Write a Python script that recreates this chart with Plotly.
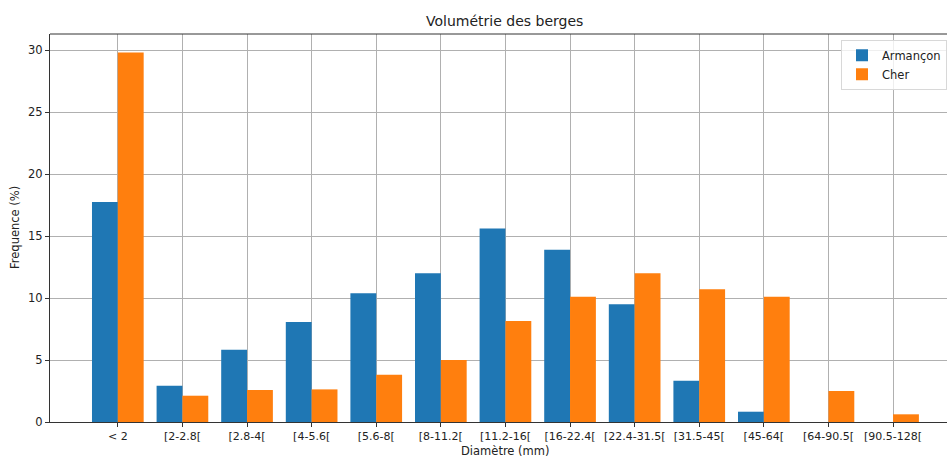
import plotly.graph_objects as go

classes = ["< 2", "[2-2.8[", "[2.8-4[", "[4-5.6[", "[5.6-8[", "[8-11.2[", "[11.2-16[",
           "[16-22.4[", "[22.4-31.5[", "[31.5-45[", "[45-64[", "[64-90.5[", "[90.5-128["]
armancon = [17.75, 2.93, 5.83, 8.06, 10.38, 12.0, 15.6, 13.9, 9.5, 3.33, 0.83, 0, 0]
cher = [29.8, 2.12, 2.58, 2.63, 3.82, 5.0, 8.15, 10.1, 12.0, 10.7, 10.1, 2.5, 0.62]

font = "DejaVu Sans"

fig = go.Figure()
fig.add_trace(go.Bar(x=classes, y=armancon, name="Armançon", marker_color="#1f77b4",
                     marker_line_width=0))
fig.add_trace(go.Bar(x=classes, y=cher, name="Cher", marker_color="#ff7f0e",
                     marker_line_width=0))

fig.update_layout(
    width=947, height=457, autosize=False,
    margin=dict(l=50, r=0, t=34, b=35),
    plot_bgcolor="white", paper_bgcolor="white",
    barmode="group", bargap=0.2, bargroupgap=0,
    font=dict(family=font, size=11, color="#222"),
    showlegend=True,
    legend=dict(x=1.0, y=0.985, xanchor="right", yanchor="top",
                bgcolor="rgba(255,255,255,0.8)", bordercolor="#d8d8d8", borderwidth=1,
                font=dict(size=11.5), itemsizing="constant", tracegroupgap=0),
    annotations=[
        dict(text="Volumétrie des berges", x=0.507, y=1, xref="paper", yref="paper",
             xanchor="center", yanchor="bottom", yshift=3, showarrow=False,
             font=dict(size=14, color="#222")),
        dict(text="Diamètre (mm)", x=0.507, y=0, xref="paper", yref="paper",
             xanchor="center", yanchor="top", yshift=-20, showarrow=False,
             font=dict(size=11.5, color="#222")),
        dict(text="Frequence (%)", x=0, y=0.5, xref="paper", yref="paper",
             xanchor="center", yanchor="middle", xshift=-35, textangle=-90,
             showarrow=False, font=dict(size=11.5, color="#222")),
    ],
)

fig.update_xaxes(range=[-1.05, 12.835], showgrid=True, gridcolor="#b0b0b0", gridwidth=1,
                 showline=True, linecolor="#333", linewidth=1, mirror=False,
                 ticks="outside", ticklen=4, tickcolor="#333", layer="above traces",
                 tickfont=dict(size=11, color="#222"))
fig.update_yaxes(range=[0, 31.29], dtick=5, showgrid=True, gridcolor="#b0b0b0", gridwidth=1,
                 showline=True, linecolor="#333", linewidth=1, zeroline=False,
                 ticks="outside", ticklen=4, tickcolor="#333", layer="above traces",
                 tickfont=dict(size=11.5, color="#222"))

# top spine
fig.add_shape(type="line", xref="paper", yref="paper", x0=0, x1=1, y0=1, y1=1,
              line=dict(color="#333", width=1))

fig.write_html("out.html", config={"displayModeBar": False},
               post_script="document.body.style.margin='0';")
